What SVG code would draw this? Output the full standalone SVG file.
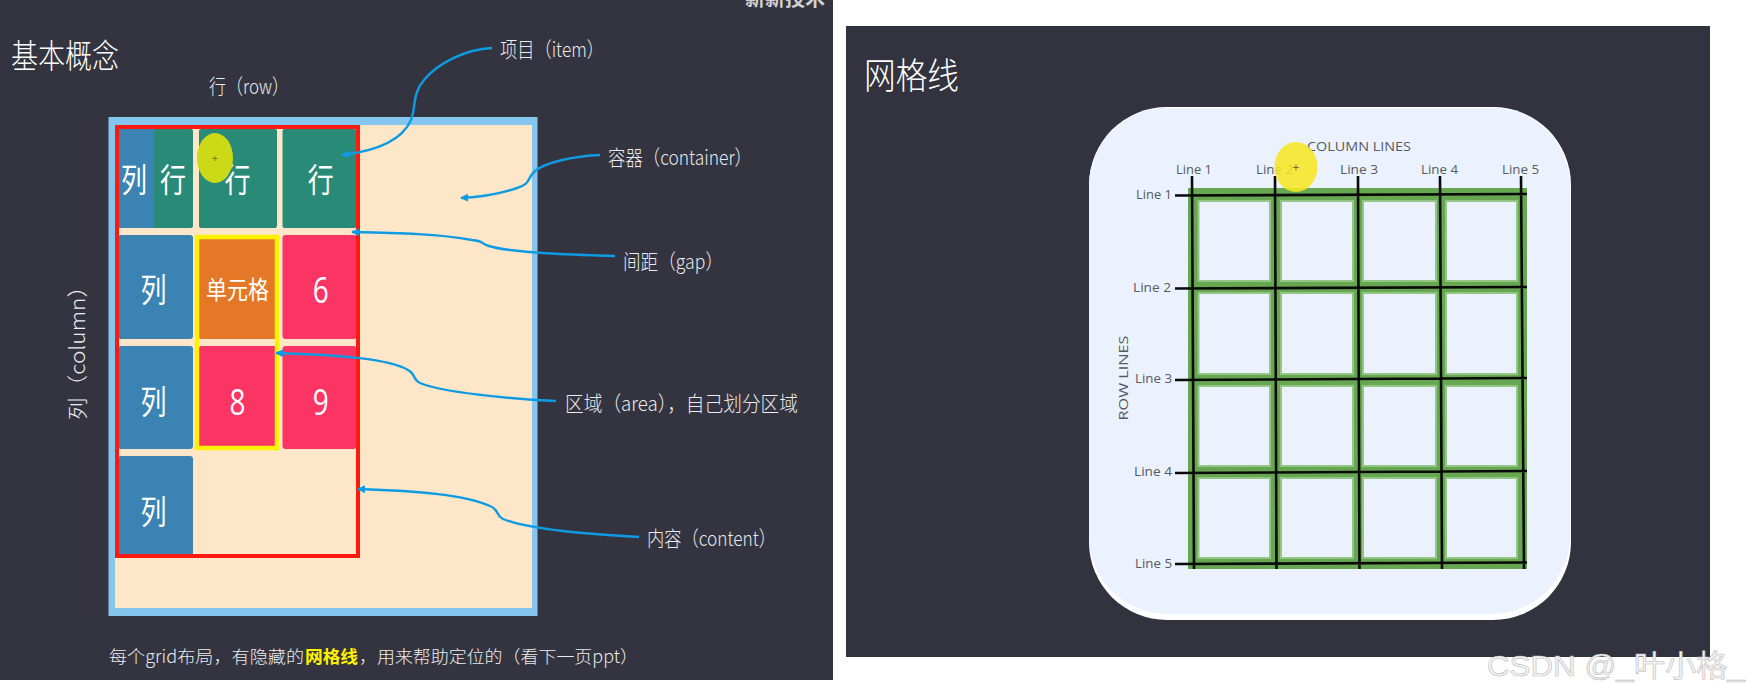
<svg xmlns="http://www.w3.org/2000/svg" width="1749" height="696" viewBox="0 0 1749 696">
<style>
text{font-family:"Noto Sans CJK SC","Noto Sans",sans-serif;text-anchor:middle;dominant-baseline:central}
.lab{fill:#ececee;font-size:21px;font-weight:300;text-anchor:start}
.note{font-size:17.500px}
.big{fill:#fff;font-size:33px}
.dig{fill:#fff;font-size:37px;font-family:"Open Sans",sans-serif}
.g{fill:#2a8a78}.b{fill:#3a83b2}.r{fill:#fb3563}
.ln{font-family:"Open Sans",sans-serif;fill:#555a60;font-size:13px}
.bk{stroke:#0a0a0a;stroke-width:2.6;fill:none}
.ar{fill:none;stroke:#0f9be4;stroke-width:2.4}
.c{fill:#ecf2fd;stroke:#93c684;stroke-width:2}
</style>
<defs>
<marker id="ah" viewBox="0 0 8 8" refX="7" refY="4" markerWidth="8" markerHeight="8" markerUnits="userSpaceOnUse" orient="auto"><path d="M0 0L8 4L0 8Z" fill="#0f9be4"/></marker>
</defs>
<rect width="1749" height="696" fill="#fff"/>
<rect id="panel-left" width="833" height="680" fill="#33343f"/>
<rect id="panel-right" x="846" y="26" width="864" height="631" fill="#32333e"/>
<svg x="700" y="0" width="133" height="20"><text x="95" y="-3" style="font-size:20px;font-weight:700;fill:#d0d0d4">新新技术一</text></svg>
<text class="lab" x="11" y="54" textLength="108" lengthAdjust="spacingAndGlyphs" style="font-size:33px;fill:#fff">基本概念</text>
<text class="lab" x="209" y="85" textLength="80" lengthAdjust="spacingAndGlyphs">行（row）</text>
<g id="container"><rect x="108.500" y="117" width="429" height="499" fill="#85c6ef"/><rect x="115" y="125" width="417" height="483" fill="#fee7c9"/></g>
<g id="cells">
<rect class="g" x="118" y="129" width="75" height="99" rx="2"/>
<rect class="b" x="118" y="129" width="36" height="99"/>
<rect class="g" x="199" y="129" width="78" height="99" rx="2"/>
<rect class="g" x="282.500" y="129" width="74" height="99" rx="2"/>
<rect class="b" x="118" y="235" width="75" height="104" rx="3"/>
<rect x="199" y="235" width="78" height="104" rx="2" fill="#e57826"/>
<rect class="r" x="282.500" y="235" width="74" height="104" rx="3"/>
<rect class="b" x="118" y="346" width="75" height="103" rx="3"/>
<rect class="r" x="199" y="346" width="78" height="103" rx="2"/>
<rect class="r" x="282.500" y="346" width="74" height="103" rx="3"/>
<rect class="b" x="118" y="456" width="75" height="100" rx="3"/>
</g>
<rect x="197" y="237" width="80" height="211" fill="none" stroke="#fff200" stroke-width="4.500"/>
<rect x="117" y="127" width="241" height="429" fill="none" stroke="#fb1a10" stroke-width="4"/>
<g id="cell-text">
<text class="big" x="134" y="178" textLength="26" lengthAdjust="spacingAndGlyphs">列</text><text class="big" x="173" y="178" textLength="26" lengthAdjust="spacingAndGlyphs">行</text><text class="big" x="237.500" y="178" textLength="26" lengthAdjust="spacingAndGlyphs">行</text><text class="big" x="320.700" y="178" textLength="26" lengthAdjust="spacingAndGlyphs">行</text>
<text class="big" x="153.600" y="288" textLength="26" lengthAdjust="spacingAndGlyphs">列</text><text class="big" x="237.500" y="288" textLength="63" lengthAdjust="spacingAndGlyphs" style="font-size:25px">单元格</text><text class="dig" x="320.700" y="288" textLength="16" lengthAdjust="spacingAndGlyphs">6</text>
<text class="big" x="153.600" y="400" textLength="26" lengthAdjust="spacingAndGlyphs">列</text><text class="dig" x="237.500" y="400" textLength="16" lengthAdjust="spacingAndGlyphs">8</text><text class="dig" x="320.700" y="400" textLength="16" lengthAdjust="spacingAndGlyphs">9</text>
<text class="big" x="153.600" y="510" textLength="26" lengthAdjust="spacingAndGlyphs">列</text>
</g>
<ellipse cx="215" cy="158" rx="18" ry="25" fill="#cbd916"/>
<path d="M212.500 158.500H217.500M215 156V161" stroke="#6b7010" stroke-width=".8"/>
<g id="connectors">
<path class="ar" marker-end="url(#ah)" d="M492 48C465 49 437 64 424 80C412 94 416 108 411 120C404 136 385 150 342 155"/>
<path class="ar" marker-end="url(#ah)" d="M600 155C575 156 546 162 535 171C526 179 532 183 517 188C500 194 480 197 461 198"/>
<path class="ar" marker-end="url(#ah)" d="M615 256C575 255 510 253 489 246C480 243 484 241 472 240C440 234 400 233 352 232"/>
<path class="ar" marker-end="url(#ah)" d="M556 401C510 399 440 392 420 383C412 379 416 374 408 370C390 359 340 355 276 353"/>
<path class="ar" marker-end="url(#ah)" d="M639 537C590 534 530 530 503 519C495 515 500 510 490 506C465 495 420 491 358 489"/>
</g>
<text class="lab" x="500" y="48" textLength="104" lengthAdjust="spacingAndGlyphs">项目（item）</text>
<text class="lab" x="608" y="156" textLength="144" lengthAdjust="spacingAndGlyphs">容器（container）</text>
<text class="lab" x="623" y="260" textLength="100" lengthAdjust="spacingAndGlyphs">间距（gap）</text>
<text class="lab" x="565" y="402" textLength="233" lengthAdjust="spacingAndGlyphs">区域（area），自己划分区域</text>
<text class="lab" x="647" y="537" textLength="129" lengthAdjust="spacingAndGlyphs">内容（content）</text>
<text class="lab" transform="translate(76 420) rotate(-90)" textLength="145" lengthAdjust="spacingAndGlyphs">列（column）</text>
<text class="lab note" x="109" y="655" textLength="195" lengthAdjust="spacingAndGlyphs">每个grid布局，有隐藏的</text>
<text class="lab note" x="305" y="655" textLength="53" lengthAdjust="spacingAndGlyphs" style="fill:#fff200;font-weight:700">网格线</text>
<text class="lab note" x="359" y="655" textLength="279" lengthAdjust="spacingAndGlyphs">，用来帮助定位的（看下一页ppt）</text>
<text class="lab" x="864" y="73" textLength="95" lengthAdjust="spacingAndGlyphs" style="font-size:36px;fill:#fff">网格线</text>
<g id="grid-card">
<rect x="1089" y="107" width="482" height="513" rx="78" fill="#fff"/>
<rect x="1089" y="108" width="481" height="506" rx="78" fill="#ecf2fd"/>
<rect x="1188" y="188" width="339" height="381" fill="#68a751"/>
<rect class="c" x="1198.500" y="201" width="71.500" height="80"/><rect class="c" x="1281" y="201" width="72" height="80"/><rect class="c" x="1363" y="201" width="73" height="80"/><rect class="c" x="1446" y="201" width="71" height="80"/>
<rect class="c" x="1198.500" y="293" width="71.500" height="81"/><rect class="c" x="1281" y="293" width="72" height="81"/><rect class="c" x="1363" y="293" width="73" height="81"/><rect class="c" x="1446" y="293" width="71" height="81"/>
<rect class="c" x="1198.500" y="386" width="71.500" height="80"/><rect class="c" x="1281" y="386" width="72" height="80"/><rect class="c" x="1363" y="386" width="73" height="80"/><rect class="c" x="1446" y="386" width="71" height="80"/>
<rect class="c" x="1198.500" y="478" width="71.500" height="80"/><rect class="c" x="1281" y="478" width="72" height="80"/><rect class="c" x="1363" y="478" width="73" height="80"/><rect class="c" x="1446" y="478" width="71" height="80"/>
<path class="bk" d="M1192 176L1194 569M1275 176L1276.500 569M1358 176L1359.500 569M1440 176L1442 569M1521 176L1524 569M1175 195.500L1527 194M1175 288.500L1527 287M1175 380L1527 378M1175 473L1527 471M1175 564L1527 562.500"/>
<text class="ln" x="1359" y="146" textLength="104" lengthAdjust="spacingAndGlyphs">COLUMN LINES</text>
<text class="ln" x="1194" y="169" textLength="36" lengthAdjust="spacingAndGlyphs">Line 1</text>
<text class="ln" x="1274.500" y="169" textLength="37" lengthAdjust="spacingAndGlyphs">Line 2</text>
<text class="ln" x="1359" y="169" textLength="38" lengthAdjust="spacingAndGlyphs">Line 3</text>
<text class="ln" x="1439.500" y="169" textLength="37" lengthAdjust="spacingAndGlyphs">Line 4</text>
<text class="ln" x="1520.500" y="169" textLength="37" lengthAdjust="spacingAndGlyphs">Line 5</text>
<text class="ln" x="1154" y="194" textLength="36" lengthAdjust="spacingAndGlyphs">Line 1</text>
<text class="ln" x="1152" y="287" textLength="38" lengthAdjust="spacingAndGlyphs">Line 2</text>
<text class="ln" x="1153.500" y="378" textLength="37" lengthAdjust="spacingAndGlyphs">Line 3</text>
<text class="ln" x="1153" y="471" textLength="38" lengthAdjust="spacingAndGlyphs">Line 4</text>
<text class="ln" x="1153.500" y="563" textLength="37" lengthAdjust="spacingAndGlyphs">Line 5</text>
<text class="ln" transform="translate(1123 378) rotate(-90)" textLength="85" lengthAdjust="spacingAndGlyphs">ROW LINES</text>
<ellipse cx="1296" cy="167" rx="21.500" ry="25" fill="#f6e81f" opacity=".86"/>
<path d="M1293 167.500H1299M1296 164.500V170.500" stroke="#444" stroke-width=".7"/>
</g>
<text x="1616" y="665" textLength="258" lengthAdjust="spacingAndGlyphs" style="font-family:'Liberation Sans','Noto Sans CJK SC',sans-serif;font-size:30px;fill:#f4f4f4;stroke:#bcbcbc;stroke-width:.6">CSDN @_叶小格_</text>
</svg>
